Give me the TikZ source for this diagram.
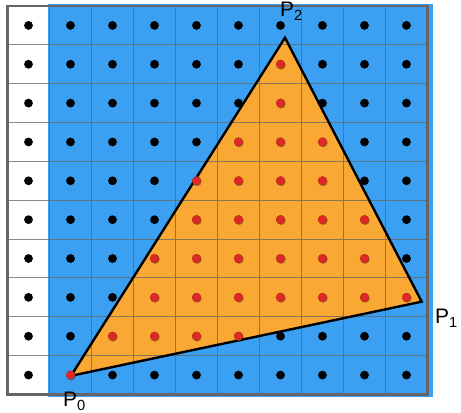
\documentclass[tikz,border=0pt]{standalone}
\usepackage{fontspec}
\setmainfont{Liberation Sans}
\usepackage{tikz}
\definecolor{pixblue}{RGB}{59,160,241}
\definecolor{triorange}{RGB}{249,168,52}
\definecolor{hitred}{RGB}{222,40,36}
\definecolor{gridgray}{RGB}{100,100,100}

\begin{document}
\begin{tikzpicture}[x=42pt, y=-38.85pt,
  sample/.style={fill=black},
  covered/.style={fill=hitred},
  vlabel/.style={anchor=base west, inner sep=0pt, font=\fontsize{21}{25}\selectfont}]
\useasboundingbox (-0.1786,-0.1544) rectangle (10.798,10.476);

% Viewport area
\fill[pixblue] (0.964,-0.0515) rectangle (10.131,10.064);

% Triangle vertices
\coordinate (p0) at (1.512,9.52);
\coordinate (p1) at (9.862,7.611);
\coordinate (p2) at (6.607,0.816);

% Triangle interior
\fill[triorange] (p0) -- (p1) -- (p2) -- cycle;

% Pixel grid
\draw[gridgray, opacity=0.75, line width=0.9pt]
  \foreach \i in {1,...,9} {(\i,0) -- (\i,10) (0,\i) -- (10,\i)};
\draw[gray!80!black, line width=2.5pt] (0,0) rectangle (10,10);

% Triangle edges
\draw[line width=2.4pt, line join=miter] (p0) -- (p1) -- (p2) -- cycle;

% Pixel centres
\foreach \r in {0,...,9} {
  \foreach \c in {0,...,9} {
    \fill[sample] (\c+0.5,\r+0.5) circle (4.4pt);
  }
}

% Samples covered by the triangle
\foreach \r/\cols in {1/{6}, 2/{6}, 3/{5,6,7}, 4/{4,5,6,7}, 5/{4,5,6,7,8},
    6/{3,4,5,6,7,8}, 7/{3,4,5,6,7,8,9}, 8/{2,3,4,5}, 9/{1}} {
  \foreach \c in \cols {
    \fill[black, opacity=0.3] ([xshift=0.8pt,yshift=-0.9pt]\c+0.5,\r+0.5) circle (4.5pt);
    \fill[covered] (\c+0.5,\r+0.5) circle (4.5pt);
  }
}

% Vertex labels
\node[vlabel] (lp0) at (1.321,10.32) {P\textsubscript{0}};
\node[vlabel] (lp1) at (10.179,8.185) {P\textsubscript{1}};
\node[vlabel] (lp2) at (6.488,0.283) {P\textsubscript{2}};
\end{tikzpicture}
\end{document}
